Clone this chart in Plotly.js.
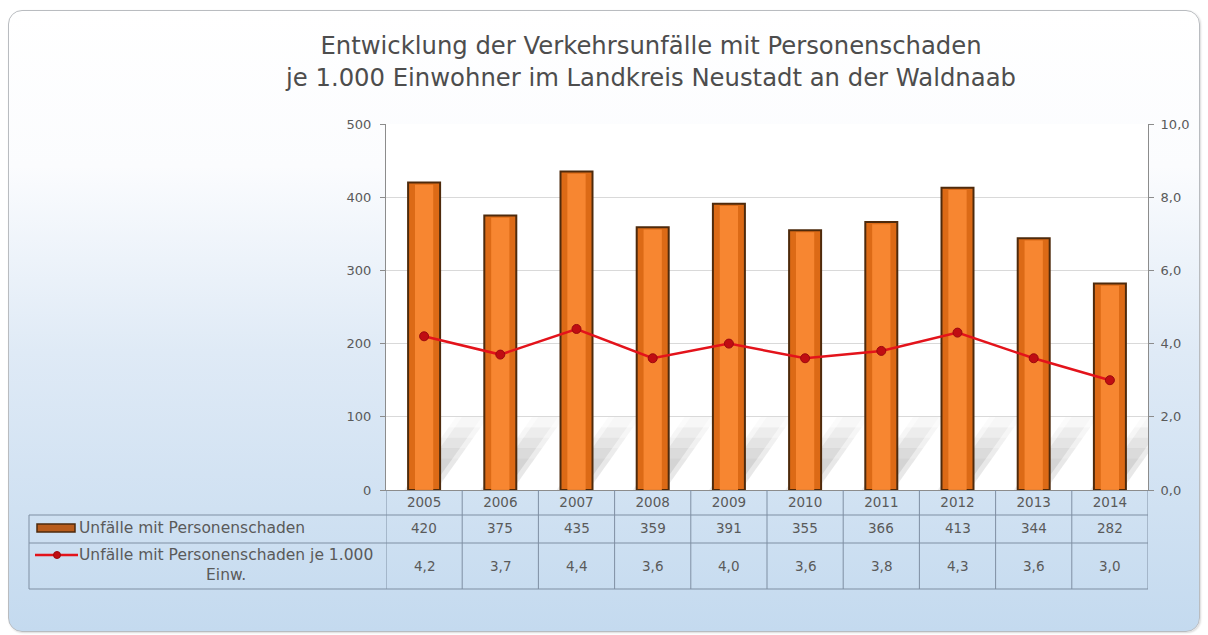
<!DOCTYPE html>
<html>
<head>
<meta charset="utf-8">
<script src="https://cdn.plot.ly/plotly-3.0.1.min.js"></script>
<style>
  html, body { margin: 0; padding: 0; background: #ffffff; }
  #frame {
    position: absolute; left: 8px; top: 10px; width: 1190px; height: 620px;
    border: 1px solid #b9bcc0; border-radius: 14px;
    background: linear-gradient(to bottom, #ffffff 0%, #fbfcfe 25%, #dfeaf6 55%, #c4daef 100%);
    box-shadow: 1px 1px 2px rgba(0,0,0,0.15);
  }
  #chart { position: absolute; left: 0; top: 0; width: 1208px; height: 635px; }
</style>
</head>
<body>
<div id="frame"></div>
<div id="chart"></div>
<script>
// Verkehrsunfälle mit Personenschaden, Landkreis Neustadt an der Waldnaab
const years = ['2005', '2006', '2007', '2008', '2009', '2010', '2011', '2012', '2013', '2014'];
const unfaelle = [420, 375, 435, 359, 391, 355, 366, 413, 344, 282];
const jeTausend = [4.2, 3.7, 4.4, 3.6, 4.0, 3.6, 3.8, 4.3, 3.6, 3.0];
const seriesNames = ['Unfälle mit Personenschaden', 'Unfälle mit Personenschaden je 1.000<br>Einw.'];
const titleLines = ['Entwicklung der Verkehrsunfälle mit Personenschaden', 'je 1.000 Einwohner im Landkreis Neustadt an der Waldnaab'];

const W = 1208, H = 635;
const M = { l: 386, r: 60, t: 124, b: 145 };
const plotW = W - M.l - M.r, plotH = H - M.t - M.b;
// pixel -> paper helpers for the data table below the plot
const px = x => (x - M.l) / plotW;
const py = y => (H - M.b - y) / plotH;

const FONT = 'DejaVu Sans, Verdana, sans-serif';
const gridCol = '#7f8fa3';
const textCol = '#5a5a5a';
const tickSize = 13;
const cellSize = 13.5;
const keySize = 15.5;
const fmt1 = v => v.toFixed(1).replace('.', ',');

const traces = [
  {
    type: 'bar', x: years, y: unfaelle, name: seriesNames[0], width: 0.42,
    marker: { color: '#dc6a16', line: { color: '#4e2a0c', width: 2 } },
    showlegend: false, hoverinfo: 'x+y'
  },
  {
    // lighter core for a rounded, cylindrical look
    type: 'bar', x: years, y: unfaelle.map(v => v - 3), width: 0.24,
    marker: { color: '#fa8a34', line: { width: 0 } },
    opacity: 0.9, showlegend: false, hoverinfo: 'skip'
  },
  {
    type: 'scatter', mode: 'lines+markers', x: years, y: jeTausend, yaxis: 'y2',
    name: seriesNames[1],
    line: { color: '#e3131b', width: 2.5 },
    marker: { color: '#c00d12', size: 9, line: { color: '#9b0a0e', width: 1 } },
    showlegend: false
  }
];

const shapes = [];
const annotations = [];

// soft diagonal floor shadows behind the bars, built from thin bands
const bandOp = [0.10, 0.13, 0.13, 0.11, 0.08, 0.05, 0.025];
years.forEach((yr, i) => {
  const n = bandOp.length;
  bandOp.forEach((op, k) => {
    const y0 = 100 * k / n, y1 = 100 * (k + 1) / n;
    const sx = v => i - 0.05 + 0.68 * v / 100;  // shadow centre drifts to the right with height
    [0.21, 0.13].forEach(hw => {
      shapes.push({
        type: 'path', xref: 'x', yref: 'y', layer: 'below',
        path: `M ${sx(y0) - hw},${y0} L ${sx(y0) + hw},${y0} L ${sx(y1) + hw},${y1} L ${sx(y1) - hw},${y1} Z`,
        fillcolor: `rgba(80,80,80,${op})`, line: { width: 0 }
      });
    });
  });
});

// data table grid
const rowY = [py(515), py(543), py(589)];
rowY.forEach(y => shapes.push({
  type: 'line', xref: 'paper', yref: 'paper', x0: px(29), x1: 1, y0: y, y1: y,
  line: { color: gridCol, width: 1 }
}));
shapes.push({
  type: 'line', xref: 'paper', yref: 'paper', x0: px(29), x1: px(29), y0: rowY[0], y1: rowY[2],
  line: { color: gridCol, width: 1 }
});
for (let i = 0; i <= years.length; i++) {
  shapes.push({
    type: 'line', xref: 'x', yref: 'paper', x0: i - 0.5, x1: i - 0.5, y0: 0, y1: rowY[2],
    line: { color: gridCol, width: 1 }
  });
}

// table values
years.forEach((yr, i) => {
  annotations.push({
    xref: 'x', yref: 'paper', x: i, y: py(528), text: String(unfaelle[i]),
    showarrow: false, font: { size: cellSize, color: textCol }, xanchor: 'center', yanchor: 'middle'
  });
  annotations.push({
    xref: 'x', yref: 'paper', x: i, y: py(566), text: fmt1(jeTausend[i]),
    showarrow: false, font: { size: cellSize, color: textCol }, xanchor: 'center', yanchor: 'middle'
  });
});

// legend keys and labels inside the table
shapes.push({
  type: 'rect', xref: 'paper', yref: 'paper', x0: px(37), x1: px(75), y0: py(532), y1: py(524),
  fillcolor: '#b85c1c', line: { color: '#4e2a0c', width: 1.5 }
});
shapes.push({
  type: 'line', xref: 'paper', yref: 'paper', x0: px(35), x1: px(78), y0: py(555), y1: py(555),
  line: { color: '#e3131b', width: 2.5 }
});
shapes.push({
  type: 'circle', xref: 'paper', yref: 'paper', x0: px(53.5), x1: px(60.5), y0: py(558.5), y1: py(551.5),
  fillcolor: '#c00d12', line: { color: '#9b0a0e', width: 1 }
});
annotations.push({
  xref: 'paper', yref: 'paper', x: px(77), y: py(528), text: seriesNames[0],
  showarrow: false, font: { size: keySize, color: textCol }, xanchor: 'left', yanchor: 'middle'
});
annotations.push({
  xref: 'paper', yref: 'paper', x: px(77), y: py(565), text: seriesNames[1], align: 'center',
  showarrow: false, font: { size: keySize, color: textCol }, xanchor: 'left', yanchor: 'middle'
});

const layout = {
  width: W, height: H,
  margin: M,
  paper_bgcolor: 'rgba(0,0,0,0)',
  plot_bgcolor: '#ffffff',
  separators: ',.',
  font: { family: FONT, color: textCol, size: tickSize },
  title: {
    text: titleLines.join('<br>'),
    font: { size: 24.3, color: '#4d4d4d', family: FONT },
    x: 651 / W, xanchor: 'center', xref: 'container',
    y: 1 - 54 / H, yanchor: 'top', yref: 'container'
  },
  barmode: 'overlay',
  showlegend: false,
  xaxis: {
    type: 'category', range: [-0.5, 9.5], showgrid: false,
    showline: true, linecolor: '#8c8c8c', linewidth: 1,
    ticks: '', tickfont: { size: cellSize, color: textCol }, fixedrange: true
  },
  yaxis: {
    range: [0, 500], dtick: 100, tickformat: 'd',
    showgrid: true, gridcolor: '#d9d9d9', gridwidth: 1, zeroline: false,
    showline: true, linecolor: '#8c8c8c', linewidth: 1,
    ticks: 'outside', ticklen: 5, tickcolor: '#8c8c8c', ticklabelstandoff: 6,
    tickfont: { size: tickSize, color: textCol }, fixedrange: true
  },
  yaxis2: {
    overlaying: 'y', side: 'right', range: [0, 10], dtick: 2, tickformat: '.1f',
    showgrid: false, zeroline: false,
    showline: true, linecolor: '#8c8c8c', linewidth: 1,
    ticks: 'outside', ticklen: 5, tickcolor: '#8c8c8c', ticklabelstandoff: 4,
    tickfont: { size: tickSize, color: textCol }, fixedrange: true
  },
  shapes: shapes,
  annotations: annotations
};

Plotly.newPlot('chart', traces, layout, { displayModeBar: false, staticPlot: true });
</script>
</body>
</html>
